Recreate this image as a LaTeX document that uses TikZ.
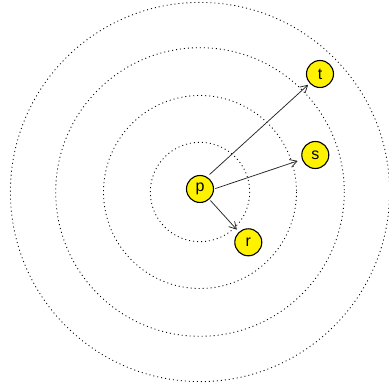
\documentclass[tikz,border=0pt]{standalone}
\usepackage{fontspec}
\setmainfont{Liberation Sans}
\usetikzlibrary{arrows.meta}
\begin{document}
\begin{tikzpicture}[x=1pt,y=-1pt,
  ring/.style={draw=black, line width=0.85pt, dash pattern=on 1pt off 3pt},
  vert/.style={circle, draw=black, line width=1.1pt, fill=yellow, minimum size=27pt, inner sep=0pt, font=\fontsize{16}{19}\selectfont},
  link/.style={draw=black!85, line width=0.75pt, -{Straight Barb[length=7pt,width=8pt,line width=0.75pt]}}]
\useasboundingbox (0,0) rectangle (389,387);
\coordinate (c) at (200,192);
\draw[ring] (c) circle[radius=49.7];
\draw[ring] (c) circle[radius=96.5];
\draw[ring] (c) circle[radius=144.3];
\draw[ring] (c) circle[radius=189.6];
\node[vert] (p) at (200,189) {p};
\node[vert] (t) at (320,74) {t};
\node[vert] (s) at (315.3,155) {s};
\node[vert] (r) at (248.3,242.3) {r};
\draw[link, shorten <=3.5pt, shorten >=2pt] (p.60) -- (t);
\draw[link, shorten <=1.3pt, shorten >=4.5pt] (p.east) -- (s);
\draw[link, shorten <=1.5pt, shorten >=3pt] (p) -- (r);
\end{tikzpicture}
\end{document}
